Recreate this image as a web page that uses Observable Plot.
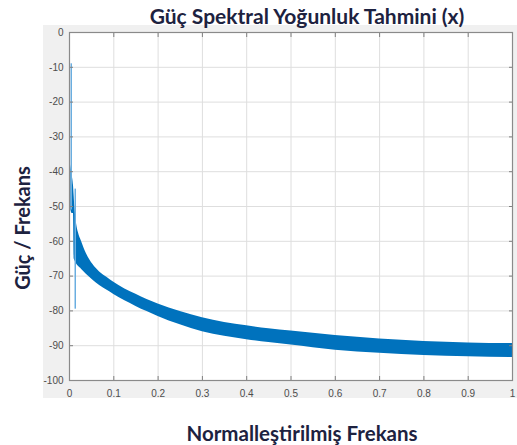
<!DOCTYPE html>
<html>
<head>
<meta charset="utf-8">
<script src="https://cdn.jsdelivr.net/npm/d3@7"></script>
<script src="https://cdn.jsdelivr.net/npm/@observablehq/plot@0.6"></script>
<style>
  body { margin: 0; background: #fff; }
  #wrap { position: relative; width: 517px; height: 445px; overflow: hidden; font-family: Lato, "Open Sans", sans-serif; }
  #panel { position: absolute; left: 43px; top: 25px; width: 474px; height: 373px; background: #f0f0f0; }
  #chart { position: absolute; left: 0; top: 0; }
  .lbl { position: absolute; font-weight: 700; color: #1d2240; white-space: nowrap; line-height: 1; }
  #title { left: 307px; top: 5px; font-size: 21px; transform: translateX(-50%); }
  #xlabel { left: 302px; top: 423px; font-size: 20.5px; transform: translateX(-50%); }
  #ylabel { left: 22px; top: 228px; font-size: 20px; transform: translate(-50%, -50%) rotate(-90deg); }
</style>
</head>
<body>
<div id="wrap">
  <div id="panel"></div>
  <div id="chart"></div>
  <div class="lbl" id="title">Güç Spektral Yoğunluk Tahmini (x)</div>
  <div class="lbl" id="xlabel">Normalleştirilmiş Frekans</div>
  <div class="lbl" id="ylabel">Güç / Frekans</div>
</div>
<script>
// Normalized frequency and the upper/lower envelope (dB) of the dense PSD trace
const freq  = [0.003, 0.006, 0.009, 0.0105, 0.012, 0.016, 0.02, 0.027, 0.038, 0.053, 0.068, 0.085, 0.1, 0.125, 0.15, 0.175, 0.2, 0.25, 0.3, 0.35, 0.4, 0.45, 0.5, 0.6, 0.7, 0.8, 0.9, 1.0];
const upper = [-38, -41, -44, -47, -50, -55, -57.5, -60, -63.5, -66.7, -68.8, -70.4, -71.8, -73.7, -75.2, -76.7, -78, -80.2, -82, -83.3, -84.3, -85.1, -85.8, -87.1, -88.1, -88.8, -89.2, -89.4];
const lower = [-51, -52, -52, -65, -65.5, -66.5, -67.2, -68, -69.5, -71.2, -72.7, -74.1, -75.3, -77.1, -78.7, -80.2, -81.6, -84, -86, -87.3, -88.3, -89.1, -89.8, -91.3, -92.2, -92.8, -93.2, -93.4];

// Isolated spikes near DC
const spikeFreq = [0.004, 0.013];
const spikeTop  = [-9, -45];
const spikeBot  = [-51, -79.5];

// Axis ticks
const xTicks = [0, 0.1, 0.2, 0.3, 0.4, 0.5, 0.6, 0.7, 0.8, 0.9, 1];
const yTicks = [-100, -90, -80, -70, -60, -50, -40, -30, -20, -10, 0];

const band = freq.map((f, i) => ({f, lo: lower[i], hi: upper[i]}));
const spikes = spikeFreq.map((f, i) => ({f, top: spikeTop[i], bot: spikeBot[i]}));

const fmt = d => String(d);
const blank = () => "";

const chart = Plot.plot({
  width: 517,
  height: 445,
  marginLeft: 69,
  marginRight: 5,
  marginTop: 32,
  marginBottom: 65,
  style: {background: "transparent", fontFamily: "'Liberation Sans', Arial, sans-serif", fontSize: "10px", color: "#4d4d4d"},
  x: {domain: [0, 1]},
  y: {domain: [-100, 0]},
  marks: [
    Plot.frame({fill: "white", stroke: null}),
    Plot.gridX(xTicks, {stroke: "#dedede", strokeOpacity: 1}),
    Plot.gridY(yTicks, {stroke: "#dedede", strokeOpacity: 1}),
    Plot.areaY(band, {x: "f", y1: "lo", y2: "hi", curve: "monotone-x", fill: "#0072bd"}),
    Plot.ruleX(spikes, {x: "f", y1: "bot", y2: "top", stroke: "#6aaee0", strokeWidth: 1.5}),
    Plot.axisX(xTicks, {anchor: "bottom", tickSize: 0, tickPadding: 9, tickFormat: fmt, label: null}),
    Plot.axisY(yTicks, {anchor: "left", tickSize: 0, tickPadding: 6, tickFormat: fmt, label: null}),
    Plot.axisX(xTicks, {anchor: "bottom", tickSize: -4, tickFormat: blank, label: null, stroke: "#808080"}),
    Plot.axisX(xTicks, {anchor: "top", tickSize: -4, tickFormat: blank, label: null, stroke: "#808080"}),
    Plot.axisY(yTicks, {anchor: "left", tickSize: -4, tickFormat: blank, label: null, stroke: "#808080"}),
    Plot.axisY(yTicks, {anchor: "right", tickSize: -4, tickFormat: blank, label: null, stroke: "#808080"}),
    Plot.frame({stroke: "#8a8a8a", strokeWidth: 1.2})
  ]
});

document.getElementById("chart").appendChild(chart);
</script>
</body>
</html>
